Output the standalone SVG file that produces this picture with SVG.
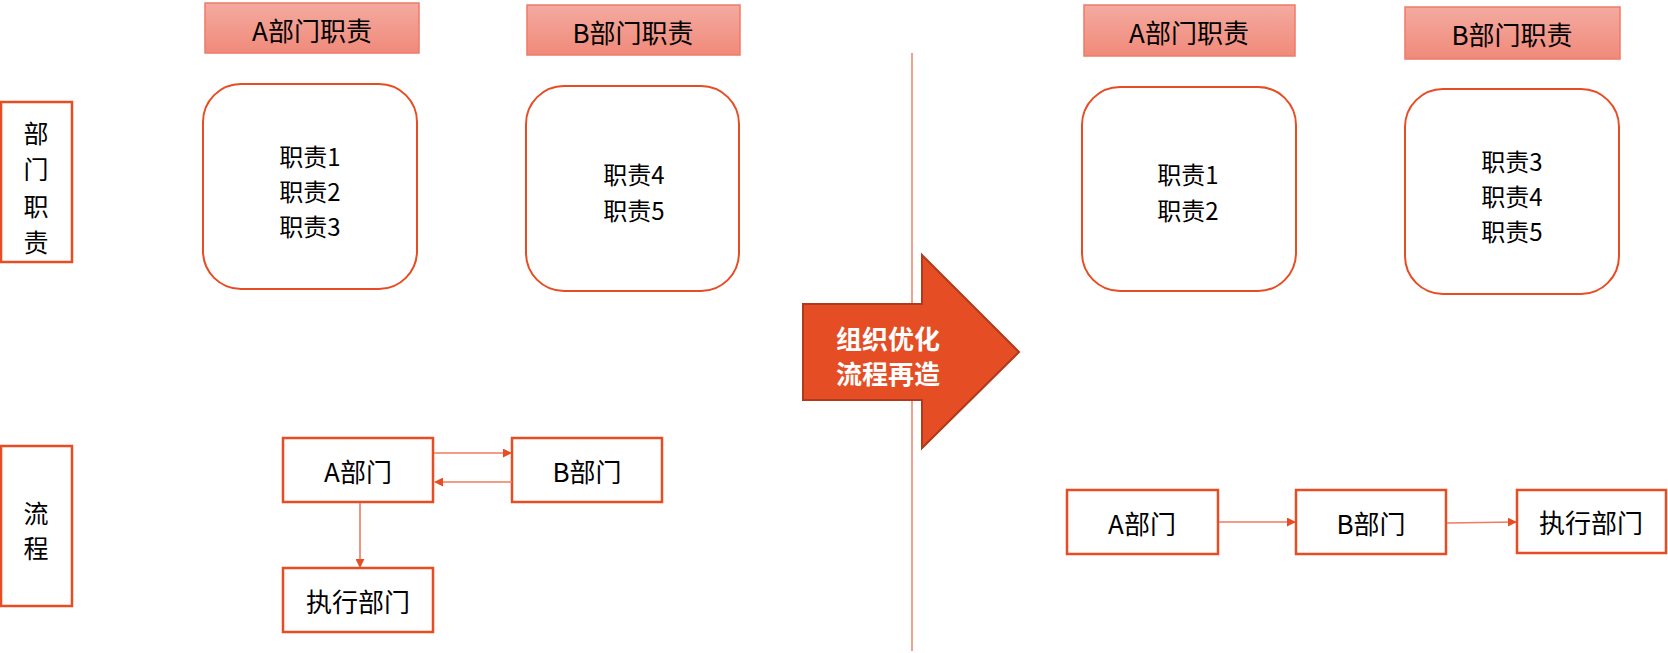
<svg xmlns="http://www.w3.org/2000/svg" width="1668" height="653" viewBox="0 0 1668 653">
<style>
text{font-family:"Noto Sans CJK SC","Noto Sans",sans-serif;fill:#000;text-anchor:middle;dominant-baseline:central}
.hdr rect{fill:url(#hg);stroke:#F07A68;stroke-width:1.5}
.hdr text{font-size:26px}
.rb{fill:#fff;stroke:#E84C22;stroke-width:2}
.body{font-size:24px}
.box{fill:#fff;stroke:#E84C22;stroke-width:2.5}
.flow{font-size:26px}
.vt{font-size:25px}
.conn line{stroke:#F07A5E;stroke-width:1.6;marker-end:url(#ah)}
</style>
<defs>
<linearGradient id="hg" x1="0" y1="0" x2="0" y2="1">
<stop offset="0" stop-color="#F4AAA0"/>
<stop offset="1" stop-color="#F08A7A"/>
</linearGradient>
<marker id="ah" viewBox="0 0 10 10" refX="9" refY="5" markerWidth="9" markerHeight="9" markerUnits="userSpaceOnUse" orient="auto">
<path d="M0,0 L10,5 L0,10 z" fill="#E84C22"/>
</marker>
</defs>
<rect width="1668" height="653" fill="#fff"/>

<line x1="912" y1="53" x2="912" y2="651" stroke="#F0A090" stroke-width="2"/>

<g id="label-duty">
<rect class="box" x="1" y="102" width="71" height="160"/>
<text class="vt" x="36" y="132">部</text>
<text class="vt" x="36" y="168">门</text>
<text class="vt" x="36" y="205">职</text>
<text class="vt" x="36" y="241">责</text>
</g>
<g id="label-flow">
<rect class="box" x="1" y="446" width="71" height="160"/>
<text class="vt" x="36" y="512">流</text>
<text class="vt" x="36" y="547">程</text>
</g>

<g id="hdr-a-left" class="hdr"><rect x="205" y="3" width="214" height="50"/><text x="312" y="29">A部门职责</text></g>
<g id="hdr-b-left" class="hdr"><rect x="527" y="5" width="213" height="50"/><text x="633" y="31">B部门职责</text></g>
<g id="hdr-a-right" class="hdr"><rect x="1084" y="5" width="211" height="51"/><text x="1189" y="31">A部门职责</text></g>
<g id="hdr-b-right" class="hdr"><rect x="1405" y="7" width="215" height="52"/><text x="1512" y="33">B部门职责</text></g>

<g id="duty-a-left">
<rect class="rb" x="203" y="84" width="214" height="205" rx="38"/>
<text class="body" x="310" y="155">职责1</text>
<text class="body" x="310" y="190">职责2</text>
<text class="body" x="310" y="225">职责3</text>
</g>
<g id="duty-b-left">
<rect class="rb" x="526" y="86" width="213" height="205" rx="38"/>
<text class="body" x="634" y="173">职责4</text>
<text class="body" x="634" y="209">职责5</text>
</g>
<g id="duty-a-right">
<rect class="rb" x="1082" y="87" width="214" height="204" rx="38"/>
<text class="body" x="1188" y="173">职责1</text>
<text class="body" x="1188" y="209">职责2</text>
</g>
<g id="duty-b-right">
<rect class="rb" x="1405" y="89" width="214" height="205" rx="38"/>
<text class="body" x="1512" y="160">职责3</text>
<text class="body" x="1512" y="195">职责4</text>
<text class="body" x="1512" y="230">职责5</text>
</g>

<g id="big-arrow">
<path d="M803,304 L922,304 L922,255 L1019,352 L922,448 L922,400 L803,400 Z" fill="#E54D24" stroke="#B23A1C" stroke-width="2"/>
<text x="888" y="337" style="font-size:26px;font-weight:bold;fill:#fff">组织优化</text>
<text x="888" y="372" style="font-size:26px;font-weight:bold;fill:#fff">流程再造</text>
</g>

<g id="flow-a-left"><rect class="box" x="283" y="438" width="150" height="64"/><text class="flow" x="358" y="470">A部门</text></g>
<g id="flow-b-left"><rect class="box" x="512" y="438" width="150" height="64"/><text class="flow" x="587" y="470">B部门</text></g>
<g id="flow-exec-left"><rect class="box" x="283" y="568" width="150" height="64"/><text class="flow" x="358" y="600">执行部门</text></g>

<g id="flow-a-right"><rect class="box" x="1067" y="490" width="151" height="64"/><text class="flow" x="1142" y="522">A部门</text></g>
<g id="flow-b-right"><rect class="box" x="1296" y="490" width="150" height="64"/><text class="flow" x="1371" y="522">B部门</text></g>
<g id="flow-exec-right"><rect class="box" x="1517" y="490" width="149" height="63"/><text class="flow" x="1591" y="521">执行部门</text></g>

<g id="connectors" class="conn">
<line x1="434" y1="453" x2="511" y2="453"/>
<line x1="512" y1="482" x2="435" y2="482"/>
<line x1="360" y1="503" x2="360" y2="567"/>
<line x1="1219" y1="522" x2="1295" y2="522"/>
<line x1="1447" y1="523" x2="1516" y2="522"/>
</g>
</svg>
